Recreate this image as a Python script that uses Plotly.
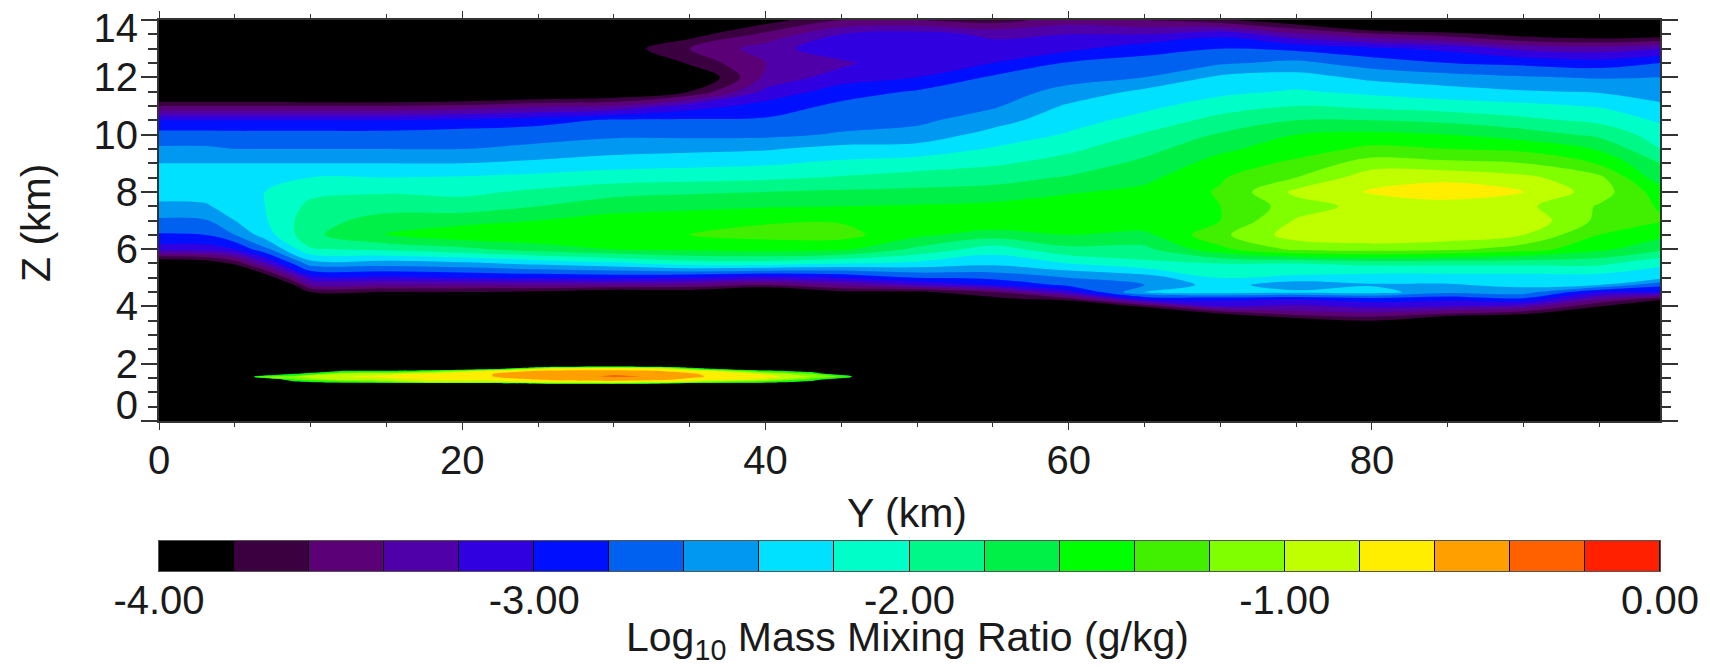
import numpy as np
import plotly.graph_objects as go

W, H = 1710, 667
FONT = "Liberation Sans"
FS = 40
FS_TITLE = 41
INK = "#1a1a1a"

# Colour of each of the twenty bands, low to high
band_colors = ["#000000", "#3a0040", "#5c0078", "#5000a8", "#3000e0", "#0010ff", "#0060f0",
               "#0098f0", "#00e0ff", "#00ffc8", "#00f888", "#00f048", "#00ff00", "#40f000",
               "#80ff00", "#c0ff00", "#ffee00", "#ffa000", "#ff6000", "#ff2000"]
band_centers = [-3.9, -3.7, -3.5, -3.3, -3.1, -2.9, -2.7, -2.5, -2.3, -2.1,
                -1.9, -1.7, -1.5, -1.3, -1.1, -0.9, -0.7, -0.5, -0.3, -0.1]
cbar_ticks = [-4, -3, -2, -1, 0]
cbar_labels = ["-4.00", "-3.00", "-2.00", "-1.00", "0.00"]

# Upper layer: altitude rows (km), with one column of values per Y position
z_rows = [14, 13.5, 13, 12.5, 12, 11.5, 11, 10.5, 10, 9.5, 9, 8.5, 8, 7.5, 7, 6.5, 6, 5.5, 5,
          4.75, 4.5, 4.25, 4, 3.75, 3.5, 3.25, 0]
y_cols = [0, 3, 5, 7, 10, 15, 20, 25, 30, 35, 40, 45, 50, 55, 60, 65, 70, 75, 80, 85, 90, 95, 99]
c00 = [-4.5, -4.5, -4.5, -4.5, -4.5, -4.3, -3.6, -3.0, -2.72, -2.57, -2.4, -2.3, -2.3, -2.45, -2.63, -2.82, -3.1, -4.1, -4.5, -4.5, -4.5, -4.5, -4.5, -4.5, -4.5, -4.5, -4.5]
c03 = [-4.5, -4.5, -4.5, -4.5, -4.5, -4.3, -3.6, -3.0, -2.72, -2.57, -2.4, -2.3, -2.3, -2.43, -2.62, -2.8, -3.1, -4.0, -4.5, -4.5, -4.5, -4.5, -4.5, -4.5, -4.5, -4.5, -4.5]
c05 = [-4.5, -4.5, -4.5, -4.5, -4.5, -4.3, -3.6, -3.0, -2.73, -2.6, -2.4, -2.25, -2.25, -2.3, -2.4, -2.6, -3.0, -3.75, -4.4, -4.5, -4.5, -4.5, -4.5, -4.5, -4.5, -4.5, -4.5]
c07 = [-4.5, -4.5, -4.5, -4.5, -4.5, -4.3, -3.6, -3.0, -2.73, -2.6, -2.4, -2.28, -2.2, -2.2, -2.22, -2.3, -2.65, -3.25, -4.0, -4.5, -4.5, -4.5, -4.5, -4.5, -4.5, -4.5, -4.5]
c10 = [-4.5, -4.5, -4.5, -4.5, -4.5, -4.4, -3.6, -3.0, -2.73, -2.6, -2.4, -2.2, -2.05, -1.95, -1.88, -1.85, -2.02, -2.5, -3.1, -3.4, -3.8, -4.3, -4.5, -4.5, -4.5, -4.5, -4.5]
c15 = [-4.5, -4.5, -4.5, -4.5, -4.5, -4.4, -3.6, -3.0, -2.73, -2.6, -2.4, -2.2, -2.02, -1.88, -1.72, -1.58, -1.95, -2.5, -3.05, -3.4, -3.8, -4.3, -4.5, -4.5, -4.5, -4.5, -4.5]
c20 = [-4.5, -4.5, -4.5, -4.5, -4.5, -4.3, -3.55, -2.95, -2.7, -2.6, -2.4, -2.18, -2.05, -1.9, -1.68, -1.45, -1.85, -2.45, -3.0, -3.4, -3.8, -4.3, -4.5, -4.5, -4.5, -4.5, -4.5]
c25 = [-4.5, -4.5, -4.5, -4.5, -4.5, -4.2, -3.45, -2.88, -2.68, -2.55, -2.35, -2.14, -1.96, -1.8, -1.6, -1.44, -1.7, -2.35, -2.97, -3.4, -3.85, -4.3, -4.5, -4.5, -4.5, -4.5, -4.5]
c30 = [-4.5, -4.5, -3.95, -4.5, -4.5, -4.1, -3.4, -2.77, -2.64, -2.48, -2.29, -2.09, -1.87, -1.68, -1.52, -1.43, -1.6, -2.25, -2.95, -3.4, -4.0, -4.4, -4.5, -4.5, -4.5, -4.5, -4.5]
c35 = [-4.5, -3.9, -3.6, -3.75, -4.1, -3.8, -3.1, -2.77, -2.65, -2.45, -2.26, -2.07, -1.83, -1.65, -1.48, -1.4, -1.55, -2.1, -3.0, -3.45, -3.95, -4.4, -4.5, -4.5, -4.5, -4.5, -4.5]
c40 = [-3.9, -3.55, -3.3, -3.4, -3.35, -3.15, -2.92, -2.77, -2.65, -2.42, -2.23, -2.04, -1.8, -1.62, -1.42, -1.35, -1.5, -2.1, -3.1, -3.6, -4.2, -4.5, -4.5, -4.5, -4.5, -4.5, -4.5]
c45 = [-3.6, -3.2, -3.05, -3.25, -3.1, -2.9, -2.75, -2.68, -2.58, -2.33, -2.16, -1.98, -1.77, -1.6, -1.42, -1.33, -1.55, -2.2, -3.0, -3.4, -3.85, -4.3, -4.5, -4.5, -4.5, -4.5, -4.5]
c50 = [-3.6, -3.1, -3.0, -3.0, -3.0, -2.78, -2.72, -2.65, -2.52, -2.32, -2.1, -1.92, -1.75, -1.58, -1.43, -1.55, -1.85, -2.25, -2.8, -3.2, -3.85, -4.3, -4.5, -4.5, -4.5, -4.5, -4.5]
c55 = [-3.7, -3.25, -3.1, -3.0, -2.77, -2.68, -2.63, -2.48, -2.33, -2.18, -2.03, -1.88, -1.72, -1.55, -1.42, -1.7, -2.1, -2.35, -2.75, -3.0, -3.6, -3.9, -4.4, -4.5, -4.5, -4.5, -4.5]
c60 = [-3.5, -3.2, -3.05, -2.78, -2.66, -2.55, -2.37, -2.28, -2.18, -2.04, -1.92, -1.78, -1.62, -1.5, -1.42, -1.6, -1.85, -2.2, -2.6, -2.75, -3.1, -3.7, -4.3, -4.5, -4.5, -4.5, -4.5]
c65 = [-3.6, -3.2, -2.88, -2.72, -2.6, -2.35, -2.25, -2.13, -1.98, -1.87, -1.75, -1.65, -1.55, -1.45, -1.45, -1.65, -1.85, -2.05, -2.5, -2.6, -2.4, -3.0, -3.75, -4.2, -4.5, -4.5, -4.5]
c70 = [-3.75, -3.05, -2.8, -2.63, -2.36, -2.25, -2.1, -1.93, -1.78, -1.64, -1.52, -1.42, -1.38, -1.4, -1.4, -1.25, -1.45, -2.0, -2.2, -2.3, -2.3, -2.95, -3.2, -3.8, -4.3, -4.5, -4.5]
c75 = [-4.0, -3.35, -2.85, -2.55, -2.32, -2.18, -2.0, -1.8, -1.6, -1.5, -1.35, -1.2, -0.95, -1.1, -0.98, -0.9, -1.15, -2.0, -2.25, -2.55, -2.35, -3.0, -3.25, -3.5, -4.0, -4.5, -4.5]
c80 = [-4.5, -3.55, -2.95, -2.7, -2.45, -2.25, -2.05, -1.8, -1.55, -1.35, -1.1, -0.88, -0.78, -0.92, -0.85, -0.85, -1.1, -1.95, -2.3, -2.42, -2.3, -2.9, -3.15, -3.45, -3.8, -4.3, -4.5]
c85 = [-4.5, -3.7, -3.05, -2.8, -2.52, -2.32, -2.1, -1.85, -1.6, -1.4, -1.15, -0.85, -0.7, -0.88, -0.83, -0.88, -1.15, -1.95, -2.3, -2.42, -2.55, -2.95, -3.2, -3.6, -4.2, -4.5, -4.5]
c90 = [-4.5, -3.9, -3.25, -2.85, -2.58, -2.38, -2.15, -1.95, -1.7, -1.45, -1.2, -0.95, -0.8, -0.95, -0.85, -1.0, -1.3, -1.95, -2.3, -2.35, -2.5, -2.85, -3.3, -3.75, -4.3, -4.5, -4.5]
c95 = [-4.5, -4.0, -3.3, -2.9, -2.62, -2.42, -2.22, -2.05, -1.85, -1.62, -1.42, -1.15, -1.1, -1.22, -1.25, -1.4, -1.55, -1.95, -2.3, -2.4, -3.0, -3.4, -3.8, -4.3, -4.5, -4.5, -4.5]
c99 = [-4.5, -3.95, -3.2, -2.8, -2.6, -2.48, -2.37, -2.23, -2.1, -2.0, -1.8, -1.72, -1.5, -1.42, -1.38, -1.55, -1.75, -2.15, -2.35, -2.75, -3.0, -3.75, -4.3, -4.5, -4.5, -4.5, -4.5]
upper_columns = [c00, c03, c05, c07, c10, c15, c20, c25, c30, c35, c40, c45, c50, c55, c60, c65, c70, c75, c80, c85, c90, c95, c99]

# Lower layer: the thin sheet near 1.5 km
low_rows = [2.05, 1.95, 1.85, 1.75, 1.65, 1.55, 1.45, 1.35, 1.25, 1.15]
low_cols = [5.6, 6.4, 9, 12, 15, 18, 22, 26, 30, 33, 36, 40, 43, 45.6, 46.3]
l00 = [-4.5, -4.5, -4.5, -4.5, -4.5, -4.5, -4.5, -4.5, -4.5, -4.5]
l01 = [-4.5, -4.5, -4.5, -4.5, -4.5, -1.2, -3.0, -4.5, -4.5, -4.5]
l02 = [-4.5, -4.5, -4.5, -4.5, -1.8, -1.0, -1.2, -2.0, -4.5, -4.5]
l03 = [-4.5, -4.5, -4.5, -1.8, -0.9, -0.8, -0.9, -1.5, -4.5, -4.5]
l04 = [-4.5, -4.5, -4.5, -1.7, -0.85, -0.75, -0.85, -1.3, -4.5, -4.5]
l05 = [-4.5, -4.5, -4.5, -1.3, -0.75, -0.7, -0.75, -1.0, -4.5, -4.5]
l06 = [-4.5, -4.5, -2.5, -0.7, -0.6, -0.6, -0.7, -1.0, -4.0, -4.5]
l07 = [-4.5, -3.0, -0.9, -0.55, -0.5, -0.48, -0.55, -0.75, -2.5, -4.5]
l08 = [-4.5, -2.6, -0.8, -0.55, -0.42, -0.37, -0.5, -0.7, -2.5, -4.5]
l09 = [-4.5, -3.0, -0.9, -0.6, -0.48, -0.42, -0.55, -0.8, -3.0, -4.5]
l10 = [-4.5, -4.5, -2.0, -0.7, -0.62, -0.6, -0.7, -1.2, -4.5, -4.5]
l11 = [-4.5, -4.5, -4.5, -1.5, -0.85, -0.7, -0.85, -1.5, -4.5, -4.5]
l12 = [-4.5, -4.5, -4.5, -2.2, -1.2, -1.0, -1.3, -2.2, -4.5, -4.5]
l13 = [-4.5, -4.5, -4.5, -4.5, -3.0, -1.3, -3.0, -4.5, -4.5, -4.5]
l14 = [-4.5, -4.5, -4.5, -4.5, -4.5, -4.5, -4.5, -4.5, -4.5, -4.5]
lower_columns = [l00, l01, l02, l03, l04, l05, l06, l07, l08, l09, l10, l11, l12, l13, l14]

# Axis tick labels
x_ticks = [0, 20, 40, 60, 80]
y_tick_labels = ["0", "2", "4", "6", "8", "10", "12", "14"]
y_label_positions = [0.55, 2, 4, 6, 8, 10, 12, 13.72]

scale = [[i / 19, c] for i, c in enumerate(band_colors)]
levels = dict(start=-3.8, end=-0.19, size=0.2, coloring="fill", showlines=False)
low_colors = [band_colors[0]] + band_colors[11:]
low_scale = [[i / 9, c] for i, c in enumerate(low_colors)]
low_levels = dict(start=-1.8, end=-0.19, size=0.2, coloring="fill", showlines=False)

upper = np.array(upper_columns).T
lower = np.array(lower_columns).T

fig = go.Figure()
fig.add_trace(go.Contour(x=y_cols, y=z_rows, z=upper, colorscale=scale, zmin=-3.9, zmax=-0.1,
                         autocontour=False, contours=levels, line=dict(width=0, smoothing=1.0),
                         showscale=False, hoverinfo="skip"))
fig.add_trace(go.Contour(x=low_cols, y=low_rows, z=lower, colorscale=low_scale, zmin=-1.9, zmax=-0.1,
                         autocontour=False, contours=low_levels, line=dict(width=0, smoothing=0.3),
                         showscale=False, hoverinfo="skip", yaxis="y3"))
fig.add_trace(go.Heatmap(x=band_centers, y=[0], z=[band_centers], colorscale=scale, zmin=-3.9, zmax=-0.1,
                         showscale=False, xgap=1, hoverinfo="skip", xaxis="x2", yaxis="y2"))

dom_x = [159 / W, 1660 / W]
dom_y = [1 - 421 / H, 1 - 20 / H]
fig.update_layout(
    width=W, height=H, autosize=False, margin=dict(l=0, r=0, t=0, b=0),
    paper_bgcolor="white", plot_bgcolor="black",
    font=dict(family=FONT, size=FS, color=INK), showlegend=False,
    xaxis=dict(domain=dom_x, range=[0, 99], tickmode="array", tickvals=x_ticks, ticks="outside",
               ticklen=7, tickwidth=1, tickcolor="#333", showgrid=False, zeroline=False, automargin=False,
               showline=True, linecolor="#333", linewidth=1.5, mirror="ticks", ticklabelstandoff=-4,
               minor=dict(dtick=5, tick0=0, ticks="outside", ticklen=4, tickwidth=1, tickcolor="#333", showgrid=False),
               anchor="y"),
    yaxis=dict(domain=dom_y, range=[0, 14], dtick=2, tick0=0, ticks="outside", ticklen=16, tickwidth=1.5,
               tickcolor="#333", showgrid=False, zeroline=False, showticklabels=False, automargin=False,
               showline=True, linecolor="#333", linewidth=1.5, mirror="ticks",
               minor=dict(dtick=0.5, tick0=0, ticks="outside", ticklen=9, tickwidth=1.5, tickcolor="#333", showgrid=False),
               anchor="x"),
    yaxis3=dict(domain=dom_y, range=[0, 14], overlaying="y", tickmode="array", tickvals=y_label_positions,
                ticktext=y_tick_labels, ticks="", showgrid=False, zeroline=False, showline=False, automargin=False,
                ticklabelstandoff=20, anchor="x", side="left"),
    xaxis2=dict(domain=dom_x, range=[-4, 0], tickmode="array", tickvals=cbar_ticks, ticktext=cbar_labels,
                ticks="", showgrid=False, zeroline=False, showline=True, linecolor="#555", linewidth=1,
                mirror=True, ticklabelstandoff=-6, anchor="y2", automargin=False),
    yaxis2=dict(domain=[1 - 571 / H, 1 - 541 / H], range=[-0.5, 0.5], showticklabels=False, ticks="",
                showgrid=False, zeroline=False, showline=True, linecolor="#555", linewidth=1, mirror=True,
                anchor="x2", automargin=False),
    annotations=[
        dict(text="Y (km)", xref="paper", yref="paper", x=907 / W, y=1 - 513 / H, showarrow=False,
             xanchor="center", yanchor="middle", font=dict(family=FONT, size=FS_TITLE, color=INK)),
        dict(text="Z (km)", xref="paper", yref="paper", x=36 / W, y=1 - 223 / H, showarrow=False, textangle=-90,
             xanchor="center", yanchor="middle", font=dict(family=FONT, size=FS_TITLE, color=INK)),
        dict(text="Log<sub>10</sub> Mass Mixing Ratio (g/kg)", xref="paper", yref="paper", x=907 / W,
             y=1 - 640 / H, showarrow=False, xanchor="center", yanchor="middle",
             font=dict(family=FONT, size=FS_TITLE, color=INK)),
    ],
)

fig.write_html("out.html", config={"displayModeBar": False},
               post_script="document.body.style.margin='0';document.documentElement.style.overflow='hidden';")
